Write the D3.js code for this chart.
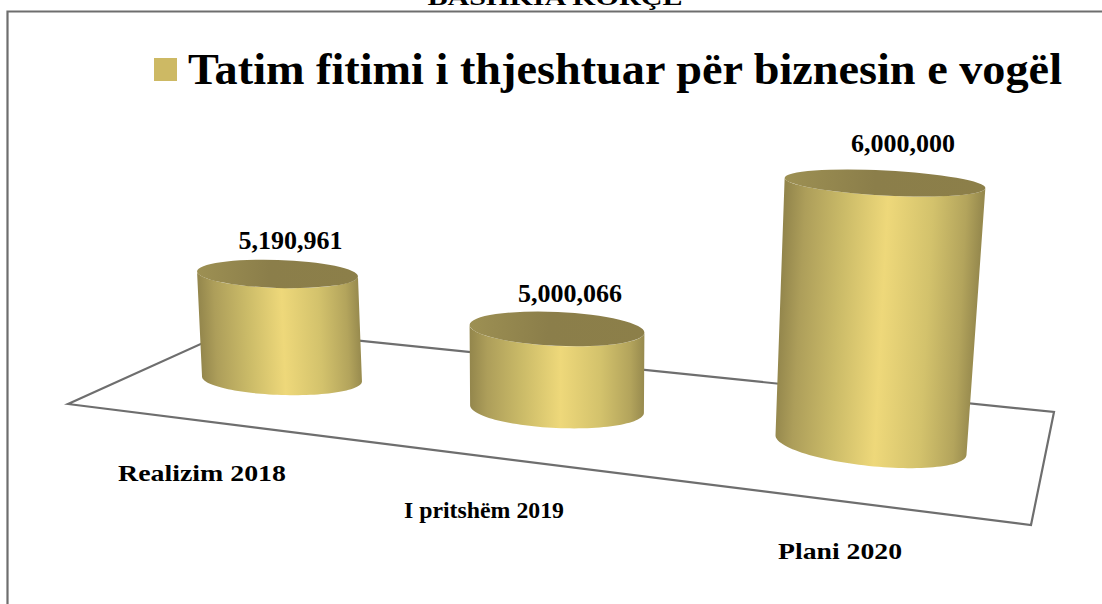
<!DOCTYPE html>
<html><head><meta charset="utf-8">
<script src="https://cdn.jsdelivr.net/npm/d3@7/dist/d3.min.js"></script>
<style>html,body{margin:0;padding:0;background:#fff;overflow:hidden}svg{display:block}
text{font-family:"Liberation Serif",serif;font-weight:bold;fill:#000}</style>
</head><body><svg id="c" width="1102" height="604"></svg>
<script>
const pageHeading = "BASHKIA KORÇË";
const seriesName = "Tatim fitimi i thjeshtuar për biznesin e vogël";
const categories = ["Realizim 2018", "I pritshëm 2019", "Plani 2020"];
const values = [5190961, 5000066, 6000000];

// projection of the 3-D scene, one scale per parameter
const baseX = d3.scaleOrdinal(categories, [282, 557, 871]);
const baseY = d3.scaleOrdinal(categories, [379, 409, 445]);
const lean = d3.scaleOrdinal(categories, [-4.5, 0, 14]);
const depth = d3.scaleOrdinal(categories, [0.95, 1.07, 1.0]);
const height = d3.scaleLinear().domain([4600000, 6000000]).range([0, 262]);
const baseRx = d3.scaleOrdinal(categories, [80, 87, 96]);
const topRx = d3.scaleOrdinal(categories, [80.5, 87.5, 100.5]);
const baseRy = d3.scaleOrdinal(categories, [16, 19, 21]);
const topRy = d3.scaleOrdinal(categories, [14, 17, 12.5]);
const baseTilt = d3.scaleOrdinal(categories, [1.8, 2.6, 6]);
const topTilt = d3.scaleOrdinal(categories, [1.8, 2.6, 2.9]);
const labelPos = d3.scaleOrdinal(categories, [[13, -25], [13, -27], [18, -31]]);
const catPos = d3.scaleOrdinal(categories, [[202, 481, 168], [484, 518, 160], [840, 559, 124]]);

const svg = d3.select("#c");
const defs = svg.append("defs");
const gray = "#6e6e6e";

// heading cut by the top of the picture
svg.append("text").attr("x", 555).attr("y", 5).attr("text-anchor", "middle")
  .attr("font-size", 23).attr("textLength", 255).attr("lengthAdjust", "spacingAndGlyphs").text(pageHeading);

// frame
svg.append("path").attr("d", d3.line()([[7.5, 604], [7.5, 11.5], [1102, 11.5]]))
  .attr("fill", "none").attr("stroke", gray).attr("stroke-width", 2.2);

// legend
svg.append("rect").attr("x", 154).attr("y", 58).attr("width", 23).attr("height", 23).attr("fill", "#cdb964");
svg.append("text").attr("x", 188).attr("y", 84).attr("font-size", 44)
  .attr("textLength", 874).attr("lengthAdjust", "spacingAndGlyphs").text(seriesName);

// floor
const floor = [[68, 404], [236, 328], [1054, 412], [1031, 525]];
svg.append("path").attr("d", d3.line().curve(d3.curveLinearClosed)(floor))
  .attr("fill", "none").attr("stroke", gray).attr("stroke-width", 2.2).attr("stroke-linejoin", "miter");

const thetas = d3.range(0, 1.0001, 1 / 60).map(t => t * Math.PI);
function pt(cx, cy, rx, ry, tilt, th) {
  const a = tilt * Math.PI / 180, ex = rx * Math.cos(th), ey = ry * Math.sin(th);
  return [cx + ex * Math.cos(a) - ey * Math.sin(a), cy + ex * Math.sin(a) + ey * Math.cos(a)];
}
const stops = [[0, "#93864c"], [0.1, "#ad9e5a"], [0.3, "#cbbb68"], [0.52, "#eed87a"], [0.75, "#d3c26c"], [0.92, "#b3a45c"], [1, "#978a4e"]];

categories.forEach((c, i) => {
  const v = values[i];
  const bx = baseX(c), by = baseY(c);
  const h = height(v) * depth(c);
  const tx = bx + lean(c), ty = by - h;
  const g = svg.append("g");

  const dx = tx - bx, dy = ty - by, len = Math.hypot(dx, dy);
  const nx = -dy / len, ny = dx / len, mx = (bx + tx) / 2, my = (by + ty) / 2;
  const r = (baseRx(c) + topRx(c)) / 2;
  const grad = defs.append("linearGradient").attr("id", "side" + i).attr("gradientUnits", "userSpaceOnUse")
    .attr("x1", mx - nx * r).attr("y1", my - ny * r).attr("x2", mx + nx * r).attr("y2", my + ny * r);
  stops.forEach(s => grad.append("stop").attr("offset", s[0]).attr("stop-color", s[1]));

  const front = thetas.map(th => pt(bx, by, baseRx(c), baseRy(c), baseTilt(c), th)).reverse();
  const rim = thetas.map(th => pt(tx, ty, topRx(c), topRy(c), topTilt(c), th));
  g.append("path").attr("d", d3.line().curve(d3.curveLinearClosed)(front.concat(rim))).attr("fill", `url(#side${i})`);

  const tg = defs.append("linearGradient").attr("id", "cap" + i);
  tg.append("stop").attr("offset", 0).attr("stop-color", "#9d9053");
  tg.append("stop").attr("offset", 0.45).attr("stop-color", "#8b7e4a");
  tg.append("stop").attr("offset", 1).attr("stop-color", "#8c7f49");
  g.append("ellipse").attr("cx", tx).attr("cy", ty).attr("rx", topRx(c)).attr("ry", topRy(c))
    .attr("transform", `rotate(${topTilt(c)} ${tx} ${ty})`).attr("fill", `url(#cap${i})`);

  const [ox, oy] = labelPos(c);
  svg.append("text").attr("x", tx + ox).attr("y", ty + oy).attr("text-anchor", "middle")
    .attr("font-size", 26).text(d3.format(",")(v));

  const [lx, ly, lw] = catPos(c);
  svg.append("text").attr("x", lx).attr("y", ly).attr("text-anchor", "middle")
    .attr("font-size", 24).attr("textLength", lw).attr("lengthAdjust", "spacingAndGlyphs").text(c);
});
</script></body></html>
